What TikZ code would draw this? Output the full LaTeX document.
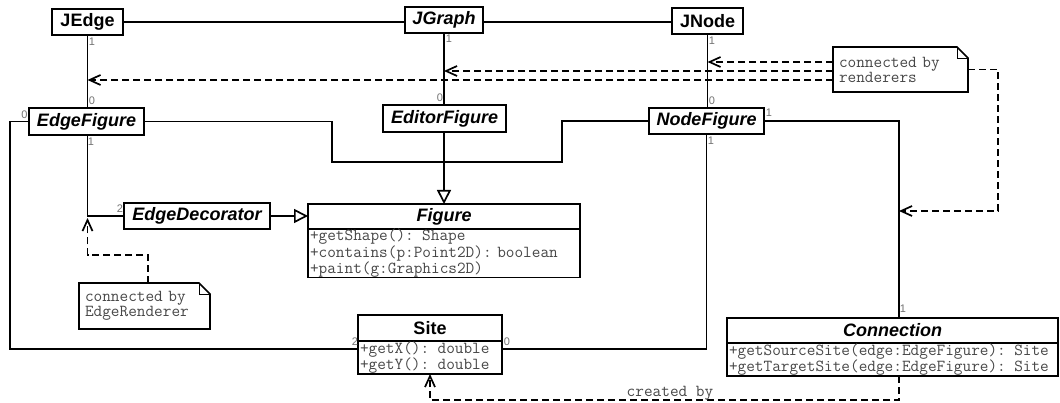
\documentclass[tikz,border=0pt]{standalone}
\usepackage{fontspec}
\setmainfont{Liberation Sans}
\usetikzlibrary{arrows.meta,calc,backgrounds}

\tikzset{
  lw/.style={line width=1.7pt},
  cls/.style={draw, lw, fill=white, inner sep=0pt, outer sep=0pt,
    font=\fontsize{18}{20}\selectfont\bfseries},
  abscls/.style={cls, font=\fontsize{18}{20}\selectfont\bfseries\itshape},
  attrs/.style={draw, lw, fill=white, inner xsep=2pt, inner ysep=0pt, outer sep=0pt,
    align=left, anchor=north, text=black!72},
  mult/.style={font=\fontsize{11}{11}\selectfont, text=black!55, inner sep=0pt},
  assoc/.style={lw},
  gen/.style={lw, -{Triangle[open, length=14pt, width=14pt, fill=white]}},
  dep/.style={lw, dash pattern=on 7pt off 4pt,
    -{Straight Barb[length=11pt, width=10pt]}},
  notebox/.style={inner xsep=6pt, inner ysep=0pt, outer sep=0pt, align=left, text=black!72,
    font=\fontsize{16.8}{15}\selectfont\ttfamily},
  noteline/.style={lw, fill=white},
  mono/.style={font=\fontsize{16.8}{15}\selectfont\ttfamily, text=black!72},
}

\begin{document}
\begin{tikzpicture}[x=1pt, y=-1pt]
\begin{pgfonlayer}{background}
  \fill[white] (0,0) rectangle (1060,403);
\end{pgfonlayer}
\useasboundingbox (0,0) rectangle (1060,403);

% ---- classes ----
\node[cls, minimum width=71pt, minimum height=26pt] (JEdge) at (87.5,22) {JEdge};
\node[abscls, minimum width=78pt, minimum height=26pt] (JGraph) at (444,20) {JGraph};
\node[cls, minimum width=71pt, minimum height=26pt] (JNode) at (707.5,21) {JNode};

\node[abscls, minimum width=115pt, minimum height=27pt] (EdgeFigure) at (86.5,121.5) {EdgeFigure};
\node[abscls, minimum width=123pt, minimum height=27pt] (EditorFigure) at (444.5,118.5) {EditorFigure};
\node[abscls, minimum width=115pt, minimum height=26pt] (NodeFigure) at (706.5,121) {NodeFigure};

\node[abscls, minimum width=146pt, minimum height=26pt] (EdgeDecorator) at (197,216) {EdgeDecorator};

\node[abscls, minimum width=272pt, minimum height=25pt] (Figure) at (444,216.5) {Figure};
\node[attrs, minimum width=272pt, minimum height=48pt, text width=268pt,
  font=\fontsize{16.8}{12.2}\selectfont\ttfamily] (FigureA) at (Figure.south)
  {+getShape(): Shape\\+contains(p:Point2D): boolean\\+paint(g:Graphics2D)};

\node[cls, minimum width=144pt, minimum height=26pt] (Site) at (430,328) {Site};
\node[attrs, minimum width=144pt, minimum height=33pt, text width=140pt,
  font=\fontsize{16.8}{14.6}\selectfont\ttfamily] (SiteA) at (Site.south)
  {+getX(): double\\+getY(): double};

\node[abscls, minimum width=331pt, minimum height=25pt] (Conn) at (892.5,330.5) {Connection};
\node[attrs, minimum width=331pt, minimum height=33pt, text width=327pt,
  font=\fontsize{16.8}{14}\selectfont\ttfamily] (ConnA) at (Conn.south)
  {+getSourceSite(edge:EdgeFigure): Site\\+getTargetSite(edge:EdgeFigure): Site};

% ---- notes (text nodes; folded outlines go underneath) ----
\node[notebox, minimum width=135pt, minimum height=45pt, text width=123pt] (n1)
  at (900.5,69.5) {\raisebox{-3pt}{\parbox{123pt}{connected by\\renderers}}};
\node[notebox, minimum width=131pt, minimum height=46pt, text width=119pt] (n2)
  at (144.5,306) {\raisebox{-4pt}{\parbox{119pt}{connected by\\EdgeRenderer}}};
\begin{pgfonlayer}{background}
  \foreach \n in {n1,n2} {
    \draw[noteline] (\n.north west) -- ($(\n.north east)+(-11,0)$)
      -- ($(\n.north east)+(0,11)$) -- (\n.south east) -- (\n.south west) -- cycle;
    \draw[line width=0.7pt] ($(\n.north east)+(-11,0)$) |- ($(\n.north east)+(0,11)$);
  }
\end{pgfonlayer}

% ---- associations ----
\draw[assoc] (JEdge.east) -- (JGraph.west |- JEdge.east);
\draw[assoc] (JGraph.east |- JEdge.east) -- (JNode.west |- JEdge.east);
\draw[assoc] (JEdge.south) -- (JEdge.south |- EdgeFigure.north);
\draw[assoc] (JGraph.south) -- (JGraph.south |- EditorFigure.north);
\draw[assoc] (JNode.south) -- (JNode.south |- NodeFigure.north);

\draw[assoc] (JEdge.south |- EdgeFigure.south) -- (JEdge.south |- EdgeDecorator.west)
  -- (EdgeDecorator.west);
\draw[assoc] (EdgeFigure.west) -| (10,349) -- ($(SiteA.north west)+(0,8)$);
\draw[assoc] (NodeFigure.south) |- ($(SiteA.north east)+(0,8)$);
\coordinate (busX) at (899,0);
\draw[assoc] (NodeFigure.east) -| (Conn.north -| busX);

% ---- generalizations ----
\coordinate (join) at (Figure.north |- 0,162);
\draw[assoc] (EdgeFigure.east) -| (332,162) -- (join);
\draw[assoc] (NodeFigure.west) -| (562,162) -- (join);
\draw[gen] (EditorFigure.south -| Figure.north) -- (Figure.north);
\draw[gen] (EdgeDecorator.east) -- (Figure.west |- EdgeDecorator.east);

% ---- dependencies ----
\draw[dep] (n1.west |- 0,80) -- (JEdge.south |- 0,80);
\draw[dep] (n1.west |- 0,71) -- (JGraph.south |- 0,71);
\draw[dep] (n1.west |- 0,62) -- (JNode.south |- 0,62);
\draw[dep] (n1.east) -| (998,211) -- (busX |- 0,211);
\draw[dep] (n2.north -| 148,0) |- (JEdge.south |- 0,255) -- (JEdge.south |- 0,218);
\draw[dep] (ConnA.south -| busX) |- (SiteA.south |- 0,400) -- (SiteA.south);
\node[mono, inner sep=0pt] (createdby) at (670,393) {created by};

% ---- multiplicities ----
\node[mult] (mJE1) at (92,42) {1};
\node[mult] (mEF0a) at (92,101) {0};
\node[mult] (mEF0b) at (24.5,114.5) {0};
\node[mult] (mEF1) at (91,142) {1};
\node[mult] (mED2) at (120,209) {2};
\node[mult] (mJG1) at (449,39) {1};
\node[mult] (mEdF0) at (440,98) {0};
\node[mult] (mJN1) at (712,41) {1};
\node[mult] (mNF0) at (712,101) {0};
\node[mult] (mNF1a) at (769,113) {1};
\node[mult] (mNF1b) at (711,141) {1};
\node[mult] (mC1) at (903,309) {1};
\node[mult] (mS2) at (355,342) {2};
\node[mult] (mS0) at (507,342) {0};
\end{tikzpicture}
\end{document}
